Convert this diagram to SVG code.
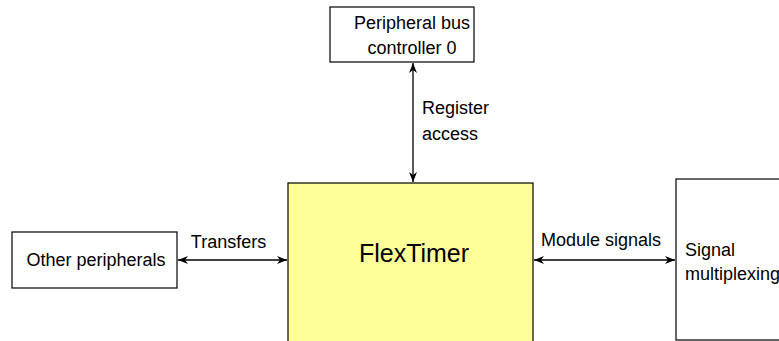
<svg xmlns="http://www.w3.org/2000/svg" width="779" height="341" viewBox="0 0 779 341">
<style>
.box{fill:#fff;stroke:#000;stroke-width:1.2}
.t{font-family:"Liberation Sans",Arial,sans-serif;font-size:18px;fill:#000}
.c{stroke:#000;stroke-width:1.3;fill:none}
</style>
<defs>
<marker id="ah" viewBox="0 0 10 10" refX="10" refY="5" markerWidth="10" markerHeight="10" markerUnits="userSpaceOnUse" orient="auto-start-reverse">
<path d="M0,1 L10,5 L0,9 L3,5 Z" fill="#000"/>
</marker>
</defs>
<g id="pbc">
<rect class="box" x="330" y="7" width="144" height="55"/>
<text class="t" x="412" y="29" text-anchor="middle">Peripheral bus</text>
<text class="t" x="412" y="54" text-anchor="middle">controller 0</text>
</g>
<g id="flextimer">
<rect x="288" y="183" width="245" height="170" fill="#ffff99" stroke="#000" stroke-width="1.2"/>
<text x="414" y="262" text-anchor="middle" font-family="Liberation Sans,Arial,sans-serif" font-size="25">FlexTimer</text>
</g>
<g id="other">
<rect class="box" x="12" y="232" width="165" height="56"/>
<text class="t" x="96" y="266" text-anchor="middle">Other peripherals</text>
</g>
<g id="sigmux">
<rect class="box" x="676" y="179" width="120" height="161"/>
<text class="t" x="685" y="256">Signal</text>
<text class="t" x="685" y="280">multiplexing</text>
</g>
<g id="connectors">
<line class="c" x1="413" y1="63" x2="413" y2="182" marker-start="url(#ah)" marker-end="url(#ah)"/>
<text class="t" x="422" y="114">Register</text>
<text class="t" x="422" y="140">access</text>
<line class="c" x1="178" y1="260" x2="287" y2="260" marker-start="url(#ah)" marker-end="url(#ah)"/>
<text class="t" x="228.5" y="248" text-anchor="middle">Transfers</text>
<line class="c" x1="534" y1="260" x2="675" y2="260" marker-start="url(#ah)" marker-end="url(#ah)"/>
<text class="t" x="541" y="246">Module signals</text>
</g>
</svg>
